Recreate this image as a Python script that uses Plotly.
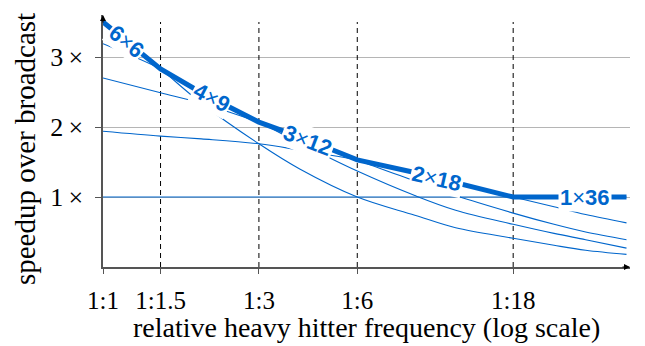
import math
import plotly.graph_objects as go

# ---- data ----
ratios = [1, 1.5, 2, 3, 4, 6, 9, 12, 18, 24, 30, 40]
configs = ["6×6", "4×9", "3×12", "2×18", "1×36"]
speedup_6x6 = [3.50, 2.83, 2.34, 1.76, 1.40, 1.00, 0.74, 0.56, 0.41, 0.31, 0.24, 0.18]
speedup_4x9 = [3.19, 2.83, 2.49, 2.07, 1.77, 1.37, 1.02, 0.81, 0.61, 0.48, 0.39, 0.27]
speedup_3x12 = [2.70, 2.49, 2.34, 2.07, 1.86, 1.53, 1.23, 1.02, 0.77, 0.61, 0.50, 0.39]
speedup_2x18 = [1.94, 1.87, 1.83, 1.76, 1.67, 1.53, 1.35, 1.20, 1.00, 0.86, 0.75, 0.63]
speedup_1x36 = [1.0] * 12
series = {"6×6": speedup_6x6, "4×9": speedup_4x9, "3×12": speedup_3x12,
          "2×18": speedup_2x18, "1×36": speedup_1x36}

# best configuration per interval of ratio
switch_points = [1, 1.5, 3, 6, 18, 40]
tick_vals = [1, 1.5, 3, 6, 18]
tick_text = ["1:1", "1:1.5", "1:3", "1:6", "1:18"]
y_tick_vals = [1, 2, 3]
y_tick_text = ["1\u2009×", "2\u2009×", "3\u2009×"]

# label anchor ratios along the best-config line
label_ratios = [1.18, 2.15, 4.24, 10.5, 29.8]
label_angles = [39, 28, 21, 13, 0]

BLUE = "#0066cc"
X_MAX = 41
Y_MAX = 3.6
fig = go.Figure()

# dashed separators
for sp in switch_points[1:-1]:
    fig.add_trace(go.Scatter(x=[sp, sp], y=[0, 3.5], mode="lines",
                             line=dict(color="black", width=1, dash="5px,4px"),
                             hoverinfo="skip", showlegend=False))

# thin lines
for c in configs:
    fig.add_trace(go.Scatter(x=ratios, y=series[c], mode="lines",
                             line=dict(color=BLUE, width=1.1, shape="spline", smoothing=1.0),
                             showlegend=False))

# thick envelope
thick_x, thick_y = [], []
for i, c in enumerate(configs):
    lo, hi = switch_points[i], switch_points[i + 1]
    for r, v in zip(ratios, series[c]):
        if lo <= r <= hi:
            thick_x.append(r)
            thick_y.append(v)
fig.add_trace(go.Scatter(x=thick_x, y=thick_y, mode="lines",
                         line=dict(color=BLUE, width=5), showlegend=False))


def interp_thick(r):
    lr = math.log(r)
    for j in range(len(thick_x) - 1):
        a, b = thick_x[j], thick_x[j + 1]
        if a <= r <= b and b > a:
            t = (lr - math.log(a)) / (math.log(b) - math.log(a))
            return thick_y[j] + t * (thick_y[j + 1] - thick_y[j])
    return thick_y[-1]


annotations = []
for c, r, ang in zip(configs, label_ratios, label_angles):
    a, b = c.split("×")
    annotations.append(dict(
        x=math.log10(r), y=interp_thick(r), xref="x", yref="y",
        text=f"<b>{a}</b>×<b>{b}</b>", showarrow=False, textangle=ang,
        font=dict(family="Liberation Sans", size=22, color=BLUE),
        bgcolor="white", borderpad=1))

# axis arrows
annotations.append(dict(x=math.log10(X_MAX), y=0, xref="x", yref="y", ax=-9, ay=0,
                        axref="pixel", ayref="pixel", text="", showarrow=True,
                        arrowhead=2, arrowsize=1, arrowwidth=1.2, arrowcolor="black"))
annotations.append(dict(x=0, y=Y_MAX, xref="x", yref="y", ax=0, ay=9,
                        axref="pixel", ayref="pixel", text="", showarrow=True,
                        arrowhead=2, arrowsize=1, arrowwidth=1.2, arrowcolor="black"))

# axis titles
annotations.append(dict(x=0.5, y=-0.242, xref="paper", yref="paper", showarrow=False,
                        text="relative heavy hitter frequency (log scale)",
                        xanchor="center", yanchor="middle",
                        font=dict(family="Liberation Serif", size=28, color="black")))
annotations.append(dict(x=-0.148, y=0.468, xref="paper", yref="paper", showarrow=False,
                        text="speedup over broadcast", textangle=-90,
                        xanchor="center", yanchor="middle",
                        font=dict(family="Liberation Serif", size=29, color="black")))

fig.update_layout(
    width=645, height=346,
    margin=dict(l=103, r=15, t=15, b=79, autoexpand=False),
    plot_bgcolor="white", paper_bgcolor="white",
    font=dict(family="Liberation Serif", size=25, color="black"),
    annotations=annotations,
    showlegend=False,
)
fig.update_xaxes(type="log", range=[0, math.log10(X_MAX)], tickvals=tick_vals, ticktext=tick_text,
                 showgrid=False, zeroline=False, showline=True, linecolor="#555", linewidth=1.5,
                 ticks="outside", ticklen=5, tickcolor="#555", automargin=False,
                 ticklabelstandoff=5)
fig.update_yaxes(range=[0, Y_MAX], tickvals=y_tick_vals, ticktext=y_tick_text,
                 showgrid=True, gridcolor="#b5b5b5", gridwidth=1, zeroline=False,
                 showline=True, linecolor="#555", linewidth=1.5,
                 ticks="outside", ticklen=6, tickcolor="#555", automargin=False,
                 ticklabelstandoff=7, tickfont=dict(size=26))

fig.write_html("out.html", config={"displayModeBar": False},
               post_script="document.body.style.margin='0';document.body.style.overflow='hidden';")
